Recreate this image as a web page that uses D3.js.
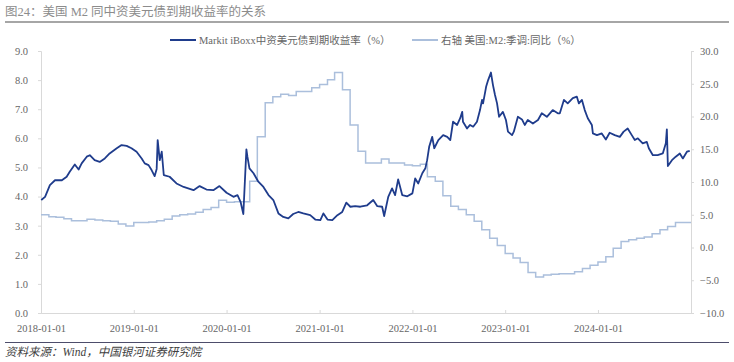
<!DOCTYPE html>
<html>
<head>
<meta charset="utf-8">
<script src="https://cdn.jsdelivr.net/npm/d3@7"></script>
<style>
  body { margin: 0; background: #fff; }
  text { font-family: "Liberation Serif", "Noto Sans CJK SC", serif; }
</style>
</head>
<body>
<div id="chart"></div>
<script>
// yield series (Markit iBoxx, %)
const yieldDates = [
  "2018-01-02","2018-01-17","2018-02-05","2018-02-25","2018-03-24","2018-04-12","2018-04-24","2018-05-14","2018-05-29","2018-06-10",
  "2018-06-30","2018-07-12","2018-07-31","2018-08-20","2018-09-09","2018-09-28","2018-10-26","2018-11-14","2018-12-04","2018-12-23",
  "2019-01-12","2019-02-01","2019-02-13","2019-02-28","2019-03-12","2019-03-24","2019-04-01","2019-04-05","2019-04-13","2019-04-21",
  "2019-04-29","2019-05-22","2019-06-18","2019-07-16","2019-08-24","2019-09-17","2019-10-14","2019-11-10","2019-12-04","2020-01-01",
  "2020-01-28","2020-02-13","2020-02-25","2020-03-07","2020-03-19","2020-03-23","2020-03-31","2020-04-16","2020-05-05","2020-05-25",
  "2020-06-14","2020-07-03","2020-07-23","2020-08-11","2020-08-31","2020-09-19","2020-10-09","2020-10-29","2020-11-25","2020-12-15",
  "2021-01-04","2021-01-16","2021-02-01","2021-02-20","2021-03-12","2021-03-31","2021-04-16","2021-05-02","2021-05-21","2021-06-10",
  "2021-07-07","2021-07-31","2021-08-16","2021-09-04","2021-09-12","2021-09-28","2021-10-13","2021-10-25","2021-11-06","2021-11-22",
  "2021-12-12","2022-01-01","2022-01-12","2022-01-24","2022-02-09","2022-02-21","2022-02-28","2022-03-08","2022-03-20","2022-03-28",
  "2022-04-13","2022-05-02","2022-05-18","2022-05-30","2022-06-10","2022-06-26","2022-07-08","2022-07-16","2022-07-19","2022-08-04",
  "2022-08-16","2022-08-28","2022-09-12","2022-09-24","2022-10-02","2022-10-06","2022-10-18","2022-10-26","2022-11-06","2022-11-14",
  "2022-11-22","2022-11-30","2022-12-08","2022-12-23","2023-01-04","2023-01-12","2023-01-28","2023-02-04","2023-02-20","2023-03-08",
  "2023-03-19","2023-03-31","2023-04-20","2023-05-10","2023-05-25","2023-06-14","2023-07-07","2023-07-27","2023-08-04","2023-08-20",
  "2023-09-04","2023-09-24","2023-10-10","2023-10-18","2023-10-30","2023-11-10","2023-11-22","2023-12-08","2023-12-12","2023-12-28",
  "2024-01-16","2024-02-01","2024-02-16","2024-03-07","2024-03-27","2024-04-11","2024-04-27","2024-05-13","2024-05-25","2024-06-06",
  "2024-06-25","2024-07-11","2024-07-19","2024-08-04","2024-08-23","2024-09-12","2024-09-24","2024-09-28","2024-10-02","2024-10-18",
  "2024-11-02","2024-11-18","2024-11-30","2024-12-16","2024-12-27"
];
const yieldValues = [
  3.88,3.99,4.39,4.56,4.56,4.68,4.85,5.10,4.93,5.14,
  5.37,5.42,5.25,5.19,5.31,5.48,5.66,5.77,5.74,5.66,
  5.54,5.31,5.14,5.08,4.91,4.70,4.95,5.94,5.25,5.54,
  4.74,4.68,4.45,4.33,4.22,4.36,4.24,4.22,4.36,4.13,
  3.99,4.05,3.82,3.40,5.62,5.37,4.97,4.80,4.51,4.33,
  4.05,3.88,3.42,3.30,3.25,3.40,3.47,3.42,3.36,3.21,
  3.19,3.42,3.21,3.19,3.36,3.47,3.79,3.65,3.67,3.65,
  3.70,3.88,3.67,3.65,3.33,3.99,4.28,4.05,4.59,4.05,
  4.01,4.11,4.62,4.45,4.80,4.97,5.25,5.71,6.05,5.66,
  5.94,6.11,6.05,5.94,6.57,6.46,6.69,6.91,6.57,6.34,
  6.46,6.40,6.57,6.97,7.32,7.20,7.77,8.00,8.26,7.83,
  7.49,7.20,6.74,6.91,6.63,6.23,6.11,6.23,6.74,6.65,
  6.46,6.63,6.51,6.63,6.86,6.74,6.97,6.86,6.86,7.32,
  7.20,7.38,7.43,7.20,7.32,6.97,6.69,6.46,6.17,6.11,
  6.17,5.96,6.19,6.11,6.05,6.23,6.34,6.11,5.94,6.00,
  5.83,5.88,5.66,5.42,5.42,5.48,5.83,6.31,5.05,5.25,
  5.37,5.48,5.31,5.54,5.57
];

// US M2 yoy (%), monthly step values starting 2018-01 (right axis)
const m2Start = "2018-01-01";
const m2Values = [
  5.0,4.7,4.6,4.4,4.1,4.1,4.3,4.2,4.1,4.0,3.6,3.3,
  3.8,3.8,3.9,4.1,4.3,4.8,5.0,5.1,5.4,5.8,6.1,7.2,
  6.9,7.0,7.0,10.1,16.9,22.1,23.0,23.4,23.2,23.8,23.8,24.4,
  24.9,25.6,26.7,24.1,18.7,14.7,12.9,12.9,13.5,12.9,12.9,12.6,
  12.5,12.7,10.8,10.1,7.9,6.3,5.8,5.0,4.0,2.7,1.4,0.3,
  -0.9,-1.6,-2.3,-3.8,-4.5,-4.2,-4.1,-4.0,-4.0,-3.7,-3.2,-2.7,
  -2.2,-1.4,-0.1,0.9,1.2,1.4,1.6,2.1,2.7,3.2,3.8,3.8
];

const leftTicks = [0,1,2,3,4,5,6,7,8,9];
const rightTicks = [-10,-5,0,5,10,15,20,25,30];
const xTickLabels = ["2018-01-01","2019-01-01","2020-01-01","2021-01-01","2022-01-01","2023-01-01","2024-01-01"];

const W = 734, H = 362;
const plot = {left: 41, right: 691, top: 51, bottom: 313};
const parse = d3.timeParse("%Y-%m-%d");

const svg = d3.select("#chart").append("svg")
  .attr("width", W).attr("height", H);

// title + rule
svg.append("text").attr("x", 5).attr("y", 16)
  .attr("font-size", 12.5).attr("fill", "#8c8c8c")
  .text("图24：美国 M2 同中资美元债到期收益率的关系");
svg.append("line").attr("x1", 5).attr("x2", 729).attr("y1", 22).attr("y2", 22)
  .attr("stroke", "#a6a6a6").attr("stroke-width", 2);

const x = d3.scaleTime()
  .domain([parse("2018-01-01"), parse("2025-01-01")])
  .range([plot.left, plot.right]);
const yL = d3.scaleLinear().domain([0, 9]).range([plot.bottom, plot.top]);
const yR = d3.scaleLinear().domain([-10, 30]).range([plot.bottom, plot.top]);

const axisColor = "#d9d9d9";
const labelColor = "#666666";

// left axis
const gL = svg.append("g").attr("transform", `translate(${plot.left},0)`)
  .call(d3.axisLeft(yL).tickValues(leftTicks).tickFormat(d3.format(".1f")).tickSize(3).tickPadding(10));
// right axis
const gR = svg.append("g").attr("transform", `translate(${plot.right},0)`)
  .call(d3.axisRight(yR).tickValues(rightTicks).tickFormat(d3.format(".1f")).tickSize(3).tickPadding(6));
// bottom axis
const gB = svg.append("g").attr("transform", `translate(0,${plot.bottom})`)
  .call(d3.axisBottom(x).tickValues(xTickLabels.map(parse)).tickFormat(d3.timeFormat("%Y-%m-%d")).tickSize(-3).tickPadding(10));

[gL, gR, gB].forEach(g => {
  g.select(".domain").attr("stroke", axisColor);
  g.selectAll(".tick line").attr("stroke", axisColor);
  g.selectAll(".tick text").attr("fill", labelColor).attr("font-size", 10.5)
    .style("font-family", '"Liberation Serif", serif');
});
gB.selectAll(".tick text").attr("dy", "0.9em");

// M2 step line
const m2Data = m2Values.map((v, i) => ({date: d3.timeMonth.offset(parse(m2Start), i), v}));
m2Data.push({date: parse("2025-01-01"), v: m2Values[m2Values.length - 1]});
svg.append("path").datum(m2Data)
  .attr("fill", "none").attr("stroke", "#abbfdc").attr("stroke-width", 1.5)
  .attr("d", d3.line().x(d => x(d.date)).y(d => yR(d.v)).curve(d3.curveStepAfter));

// yield line
const yieldData = yieldDates.map((d, i) => ({date: parse(d), v: yieldValues[i]}));
svg.append("path").datum(yieldData)
  .attr("fill", "none").attr("stroke", "#1f3c8c").attr("stroke-width", 1.8)
  .attr("stroke-linejoin", "round")
  .attr("d", d3.line().x(d => x(d.date)).y(d => yL(d.v)));

// legend
const legend = [
  {label: "Markit iBoxx中资美元债到期收益率（%）", color: "#1f3c8c", x: 170},
  {label: "右轴 美国:M2:季调:同比（%）", color: "#abbfdc", x: 412}
];
legend.forEach(l => {
  svg.append("line").attr("x1", l.x).attr("x2", l.x + 26).attr("y1", 40).attr("y2", 40)
    .attr("stroke", l.color).attr("stroke-width", 2);
  svg.append("text").attr("x", l.x + 29).attr("y", 44)
    .attr("font-size", 10.5).attr("fill", labelColor).text(l.label);
});

// footer
svg.append("line").attr("x1", 5).attr("x2", 729).attr("y1", 342.5).attr("y2", 342.5)
  .attr("stroke", "#4d4d6b").attr("stroke-width", 1);
svg.append("text").attr("x", 5).attr("y", 356)
  .attr("font-size", 11.5).attr("fill", "#404040").attr("font-style", "italic")
  .text("资料来源：Wind，中国银河证券研究院");
</script>
</body>
</html>
